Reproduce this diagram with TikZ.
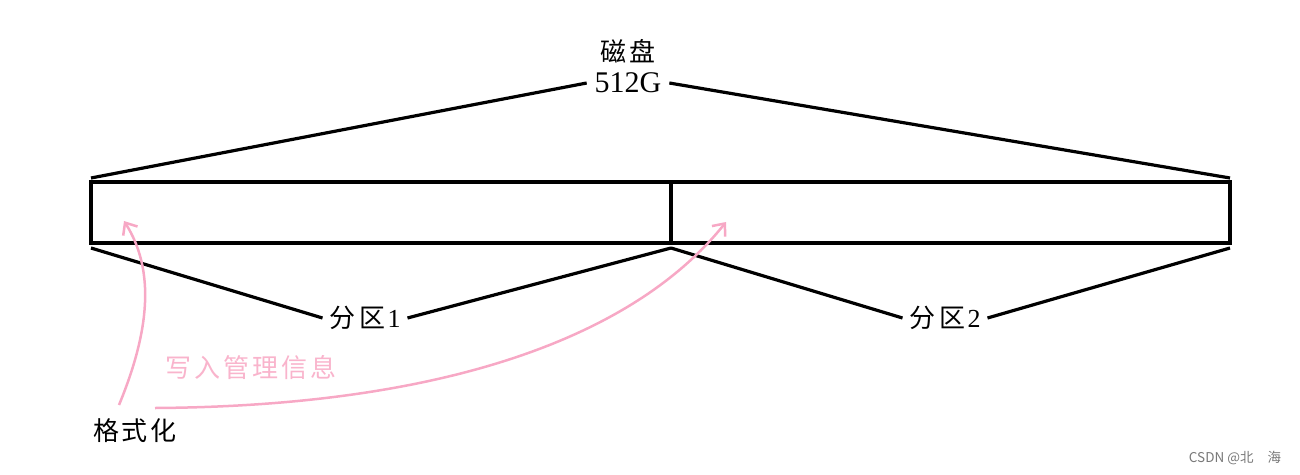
\documentclass[tikz,border=0pt]{standalone}
\usepackage{fontspec}
\setmainfont{Liberation Serif}
\newfontfamily\cjk{Noto Sans CJK SC}
\usetikzlibrary{arrows.meta}
\definecolor{pinkline}{RGB}{247,168,197}
\definecolor{pinktext}{RGB}{249,180,204}
\definecolor{wmgray}{RGB}{120,120,120}
\tikzset{
  edge/.style={line width=3.2pt, black},
  lbl/.style={inner sep=0pt, outer sep=6pt, anchor=center},
  cjktext/.style={font=\cjk\fontsize{26}{28}\selectfont},
  pinkarrow/.style={line width=2.5pt, pinkline, -{Straight Barb[length=10pt,width=17pt,line width=2.5pt]}},
}
\begin{document}
\begin{tikzpicture}[x=1pt,y=-1pt]
\useasboundingbox (0,0) rectangle (1300,474);
% disk rectangle
\coordinate (tl) at (91,182);
\coordinate (br) at (1230,243);
\coordinate (mt) at (671,182);
\coordinate (mb) at (671,243);
\draw[edge] (tl) rectangle (br);
\draw[edge] (mt) -- (mb);
% corner coordinates for fan lines
\coordinate (ltop) at (91,178);
\coordinate (rtop) at (1230,178);
\coordinate (lbot) at (91,248);
\coordinate (mbot) at (671,248);
\coordinate (rbot) at (1230,248);
% labels
\node[lbl, cjktext] (cipan) at (628,51) {磁\hspace{3pt}盘};
\node[lbl, font=\fontsize{30}{32}\selectfont, outer sep=8pt] (size) at (628,83) {512G};
\node[lbl, cjktext, outer sep=7pt] (p1) at (365,318) {分\hspace{4pt}区\hspace{2pt}{\rmfamily 1}};
\node[lbl, cjktext, outer sep=7pt] (p2) at (945,318) {分\hspace{4pt}区\hspace{2pt}{\rmfamily 2}};
\node[lbl, cjktext] (fmt) at (135,431) {格\hspace{3pt}式\hspace{3pt}化};
\node[lbl, cjktext, text=pinktext] (info) at (251,368) {写\hspace{3pt}入\hspace{3pt}管\hspace{3pt}理\hspace{3pt}信\hspace{3pt}息};
\node[lbl, font=\cjk\fontsize{13.5}{15}\selectfont, text=wmgray] (wm) at (1235,458) {CSDN @北\hspace{14pt}海};
% fan lines
\draw[edge] (ltop) -- (size.west);
\draw[edge] (size.east) -- (rtop);
\draw[edge] (lbot) -- (p1.west);
\draw[edge] (p1.east) -- (mbot);
\draw[edge] (mbot) -- (p2.west);
\draw[edge] (p2.east) -- (rbot);
% pink arrows
\coordinate (s1) at (119,405);
\coordinate (s2) at (155,408);
\coordinate (a1) at (124,221);
\coordinate (a2) at (726,222);
\draw[pinkarrow] (s1) .. controls (150,330) and (155,270) .. (a1);
\draw[pinkarrow] (s2) .. controls (460,406) and (640,330) .. (a2);
\end{tikzpicture}
\end{document}
